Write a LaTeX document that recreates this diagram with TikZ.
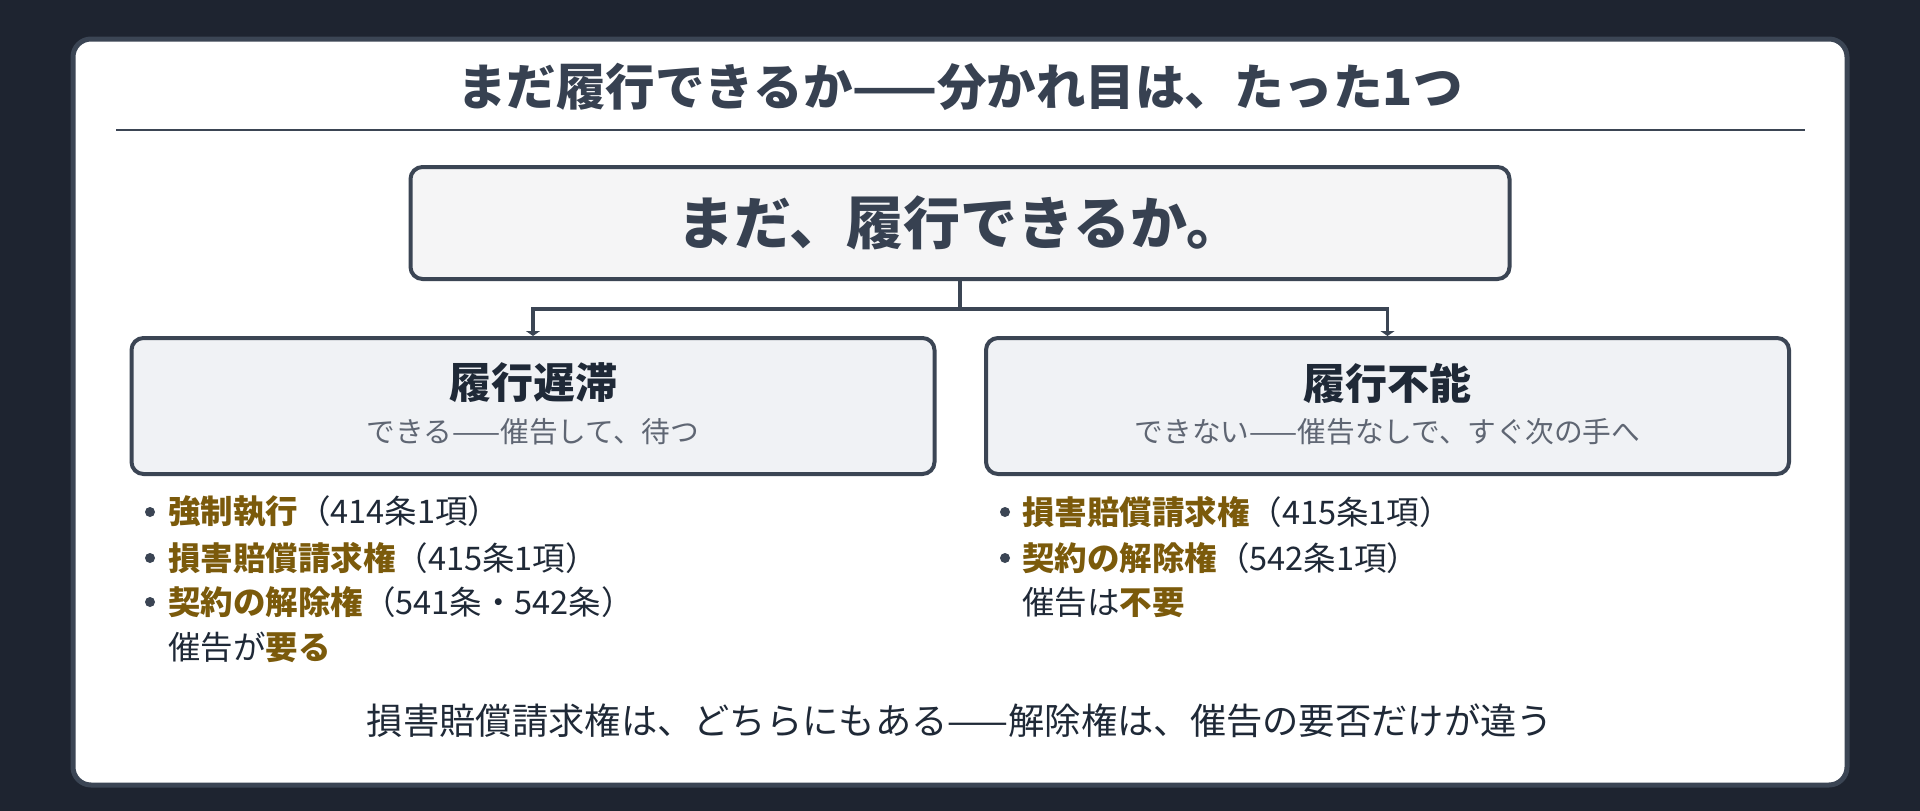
\documentclass[tikz,border=0pt]{standalone}
\usepackage{fontspec}
\setmainfont{Noto Sans CJK JP}
\usetikzlibrary{arrows.meta}
\definecolor{bgdark}{HTML}{1E2430}
\definecolor{edge}{HTML}{3B4554}
\definecolor{ttl}{HTML}{374151}
\definecolor{dark}{HTML}{1F2937}
\definecolor{sub}{HTML}{5F6673}
\definecolor{brn}{HTML}{7B5A0B}
\definecolor{topfill}{HTML}{F5F5F6}
\definecolor{boxfill}{HTML}{F0F2F5}
\newcommand{\fs}[1]{\fontsize{#1}{#1}\selectfont}
\newcommand{\kw}[1]{{\bfseries\color{brn}#1}}
\tikzset{
  card/.style={draw=edge, line width=5pt, fill=white, rounded corners=18pt},
  topbox/.style={draw=edge, line width=4pt, fill=topfill, rounded corners=12pt, minimum width=1099pt, minimum height=112pt, inner sep=0pt},
  subbox/.style={draw=edge, line width=4pt, fill=boxfill, rounded corners=12pt, minimum width=803pt, minimum height=136pt, inner sep=0pt},
  conn/.style={draw=edge, line width=3.5pt},
  arr/.style={conn, -{Triangle[length=5pt,width=14pt]}},
  item/.style={anchor=west, inner sep=0pt, text=dark, font=\fs{32.5}},
  dot/.style={circle, fill=edge, inner sep=0pt, minimum size=10pt},
}
\begin{document}
\begin{tikzpicture}[x=1pt,y=-1pt]
\useasboundingbox (0,0) rectangle (1920,811);
\fill[bgdark] (0,0) rectangle (1920,811);
\path[card] (73,39) rectangle (1847,785);
\node[font=\bfseries\fs{49.5}, text=ttl, inner sep=0pt] (title) at (960,87) {まだ履行できるか——分かれ目は、たった1つ};
\draw[edge, line width=2.5pt] (116,130) coordinate (rl) -- (1805,130) coordinate (rr);
\node[topbox] (top) at (960,223) {};
\node[font=\bfseries\fs{57}, text=ttl, inner sep=0pt] (toptext) at (960,223) {まだ、履行できるか。};
\node[subbox] (left) at (533,406) {};
\node[subbox] (right) at (1387.5,406) {};
\node[font=\bfseries\fs{42}, text=dark, inner sep=0pt] (lt) at (533,383) {履行遅滞};
\node[font=\fs{28.7}, text=sub, inner sep=0pt] (ls) at (533,432) {できる——催告して、待つ};
\node[font=\bfseries\fs{42}, text=dark, inner sep=0pt] (rt) at (1387.5,383) {履行不能};
\node[font=\fs{28.7}, text=sub, inner sep=0pt] (rs) at (1387.5,432) {できない——催告なしで、すぐ次の手へ};
\coordinate (jn) at (960,309);
\draw[conn] (top.south) -- (jn);
\draw[arr] (jn) -| (left.north);
\draw[arr] (jn) -| (right.north);
% left list
\node[dot] (ld1) at (150,512) {};
\node[dot] (ld2) at (150,558) {};
\node[dot] (ld3) at (150,602) {};
\node[item] (l1) at (168,512) {\kw{強制執行}（414条1項）};
\node[item] (l2) at (168,558) {\kw{損害賠償請求権}（415条1項）};
\node[item] (l3) at (168,602) {\kw{契約の解除権}（541条・542条）};
\node[item] (l4) at (168,647) {催告が\kw{要る}};
% right list
\node[dot] (rd1) at (1005,512) {};
\node[dot] (rd2) at (1005,558) {};
\node[item] (r1) at (1022,512) {\kw{損害賠償請求権}（415条1項）};
\node[item] (r2) at (1022,558) {\kw{契約の解除権}（542条1項）};
\node[item] (r3) at (1022,602) {催告は\kw{不要}};
\node[font=\fs{36.3}, text=dark, inner sep=0pt] (bottom) at (960,721) {損害賠償請求権は、どちらにもある——解除権は、催告の要否だけが違う};
\end{tikzpicture}
\end{document}
